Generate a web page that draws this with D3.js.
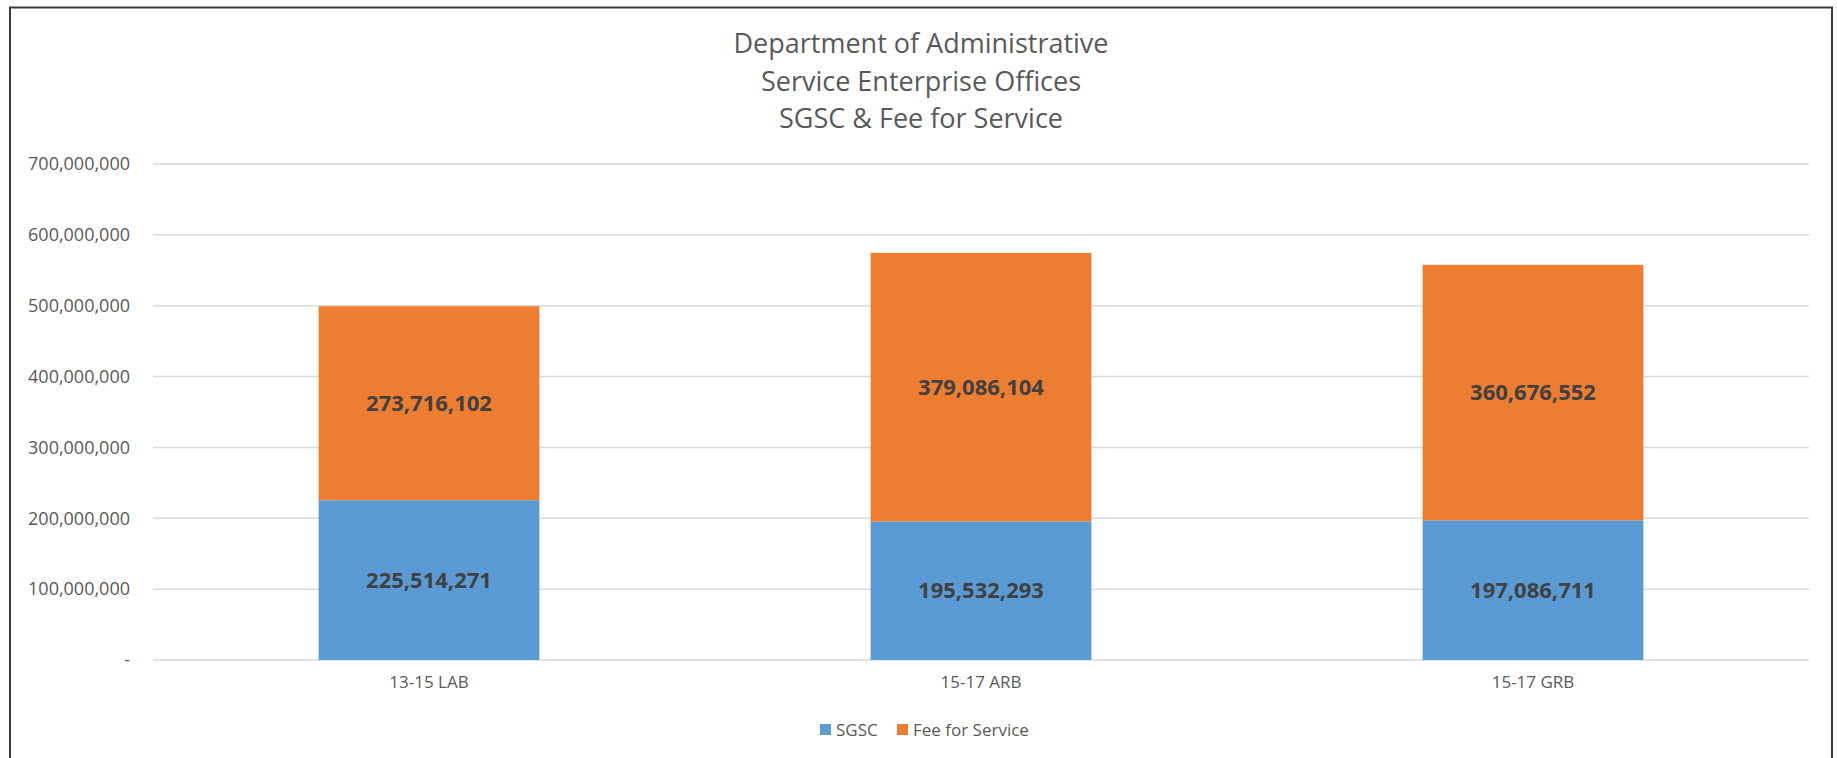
<!DOCTYPE html>
<html>
<head>
<meta charset="utf-8">
<script src="https://cdn.jsdelivr.net/npm/d3@7"></script>
<style>
  body { margin: 0; background: #fff; }
  text { font-family: "Open Sans", sans-serif; }
</style>
</head>
<body>
<div id="chart"></div>
<script>
// chart data
const categories = ["13-15 LAB", "15-17 ARB", "15-17 GRB"];
const sgsc = [225514271, 195532293, 197086711];
const feeForService = [273716102, 379086104, 360676552];
const seriesNames = ["SGSC", "Fee for Service"];
const yTicks = [0, 100000000, 200000000, 300000000, 400000000, 500000000, 600000000, 700000000];
const titleLines = ["Department of Administrative", "Service Enterprise Offices", "SGSC & Fee for Service"];

var width = 1837, height = 758;
var margin = { top: 164, right: 28, bottom: 98, left: 153 };
var colors = ["#5B9BD5", "#ED7D31"];

const svg = d3.select("#chart")
    .append("svg")
    .attr("width", width)
    .attr("height", height);

// outer frame
svg.append("rect")
    .attr("x", 10).attr("y", 7.5)
    .attr("width", 1822).attr("height", 800)
    .attr("fill", "none")
    .attr("stroke", "#3a3a3a")
    .attr("stroke-width", 2);

// title
svg.append("g")
    .selectAll("text")
    .data(titleLines)
    .join("text")
    .attr("x", 921)
    .attr("y", (d, i) => 53 + i * 37.5)
    .attr("text-anchor", "middle")
    .attr("fill", "#595959")
    .style("font-size", "27px")
    .text(d => d);

const rows = categories.map((c, i) => ({ cat: c, SGSC: sgsc[i], "Fee for Service": feeForService[i] }));
const stacked = d3.stack().keys(seriesNames)(rows);

const x = d3.scaleBand()
    .domain(categories)
    .range([margin.left, width - margin.right])
    .paddingInner(0.6)
    .paddingOuter(0.3);

const y = d3.scaleLinear()
    .domain([0, 700000000])
    .range([height - margin.bottom, margin.top]);

// gridlines
svg.append("g")
    .selectAll("line")
    .data(yTicks)
    .join("line")
    .attr("x1", margin.left)
    .attr("x2", width - margin.right)
    .attr("y1", d => y(d))
    .attr("y2", d => y(d))
    .attr("stroke", "#d9d9d9")
    .attr("stroke-width", 1.5);

// y axis labels
const fmt = d3.format(",");
const yAxis = d3.axisLeft(y)
    .tickValues(yTicks)
    .tickSize(0)
    .tickPadding(23)
    .tickFormat(d => d === 0 ? "-" : fmt(d));

svg.append("g")
    .attr("transform", "translate(" + margin.left + ",0)")
    .call(yAxis)
    .call(g => g.select(".domain").remove())
    .selectAll("text")
    .attr("fill", "#595959")
    .style("font-size", "18px")
    .style("font-family", "'Open Sans', sans-serif");

// bars
const layers = svg.append("g")
    .selectAll("g")
    .data(stacked)
    .join("g")
    .attr("fill", (d, i) => colors[i]);

layers.selectAll("rect")
    .data(d => d)
    .join("rect")
    .attr("x", d => x(d.data.cat))
    .attr("width", x.bandwidth())
    .attr("y", d => y(d[1]))
    .attr("height", d => y(d[0]) - y(d[1]));

// data labels
layers.selectAll("text")
    .data(d => d.map(v => ({ v: v, key: d.key })))
    .join("text")
    .attr("x", d => x(d.v.data.cat) + x.bandwidth() / 2)
    .attr("y", d => (y(d.v[0]) + y(d.v[1])) / 2)
    .attr("dy", "0.35em")
    .attr("text-anchor", "middle")
    .attr("fill", "#404040")
    .style("font-weight", "bold")
    .style("font-size", "22px")
    .text(d => fmt(d.v.data[d.key]));

// x axis labels
const xAxis = d3.axisBottom(x).tickSize(0).tickPadding(16);
svg.append("g")
    .attr("transform", "translate(0," + (height - margin.bottom) + ")")
    .call(xAxis)
    .call(g => g.select(".domain").remove())
    .selectAll("text")
    .attr("fill", "#595959")
    .style("font-size", "17px")
    .style("font-family", "'Open Sans', sans-serif");

// legend
const legendX = [820, 897];
const legend = svg.append("g")
    .selectAll("g")
    .data(seriesNames)
    .join("g")
    .attr("transform", (d, i) => "translate(" + legendX[i] + ",724)");

legend.append("rect")
    .attr("width", 11).attr("height", 11)
    .attr("fill", (d, i) => colors[i]);

legend.append("text")
    .attr("x", 16)
    .attr("y", 6)
    .attr("dy", "0.35em")
    .attr("fill", "#595959")
    .style("font-size", "17px")
    .text(d => d);
</script>
</body>
</html>
